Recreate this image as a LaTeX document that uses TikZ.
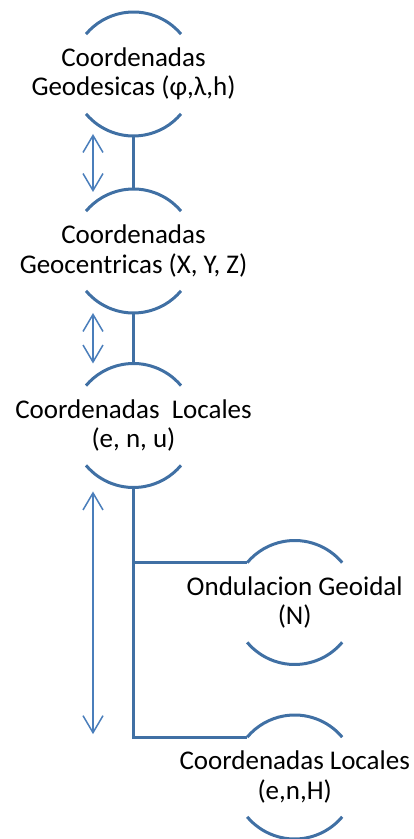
\documentclass[tikz,border=0pt]{standalone}
\usepackage{fontspec}
\setmainfont{Carlito}
\usetikzlibrary{arrows.meta}
\definecolor{arcblue}{RGB}{64,112,164}
\definecolor{arrblue}{RGB}{74,126,187}
\begin{document}
\begin{tikzpicture}[x=1pt,y=1pt,
  circnode/.style={circle,draw=none,minimum size=124pt,inner sep=0pt,outer sep=0pt},
  txt/.style={align=center,inner sep=0pt,font=\fontsize{27}{29.6}\selectfont},
  arcline/.style={draw=arcblue,line width=3pt},
  conn/.style={draw=arcblue,line width=3pt},
  dblarrow/.style={draw=arrblue,line width=1.5pt,{Straight Barb[length=17pt,width=20pt]}-{Straight Barb[length=17pt,width=20pt]}}]
\useasboundingbox (0,0) rectangle (414,839);
\node[circnode] (n1) at (133.5,765) {};
\node[circnode] (n2) at (133.5,588) {};
\node[circnode] (n3) at (133.5,413.5) {};
\node[circnode] (n4) at (294.7,236.5) {};
\node[circnode] (n5) at (294.7,62) {};
\node[txt] (t1) at (n1) {Coordenadas\\Geodesicas (φ,λ,h)};
\node[txt] (t2) at (n2) {Coordenadas\\Geocentricas (X, Y, Z)};
\node[txt] (t3) at (n3) {Coordenadas\ \ Locales\\(e, n, u)};
\node[txt] (t4) at (n4) {Ondulacion Geoidal\\(N)};
\node[txt] (t5) at (n5) {Coordenadas Locales\\(e,n,H)};
\foreach \n in {n1,n2,n3,n4,n5}{
  \draw[arcline] (\n.40) arc[start angle=40,end angle=140,radius=62pt];
  \draw[arcline] (\n.220) arc[start angle=220,end angle=320,radius=62pt];
}
\draw[conn] (n1.south) -- (n2.north);
\draw[conn] (n2.south) -- (n3.north);
\draw[conn] (n3.south) |- (n4.140);
\draw[conn] (n3.south) |- (n5.140);
\coordinate (a1) at ([xshift=-40.5pt,yshift=2pt]n1.south);
\coordinate (a2) at ([xshift=-40.5pt,yshift=-3pt]n2.north);
\coordinate (a3) at ([xshift=-40.5pt]n2.south);
\coordinate (a4) at ([xshift=-40.5pt]n3.north);
\coordinate (a5) at ([xshift=-40.5pt,yshift=-4pt]n3.south);
\coordinate (a6) at (a5 |- n5.140);
\draw[dblarrow] (a1) -- (a2);
\draw[dblarrow] (a3) -- (a4);
\draw[dblarrow] (a5) -- ([yshift=3pt]a6);
\end{tikzpicture}
\end{document}
